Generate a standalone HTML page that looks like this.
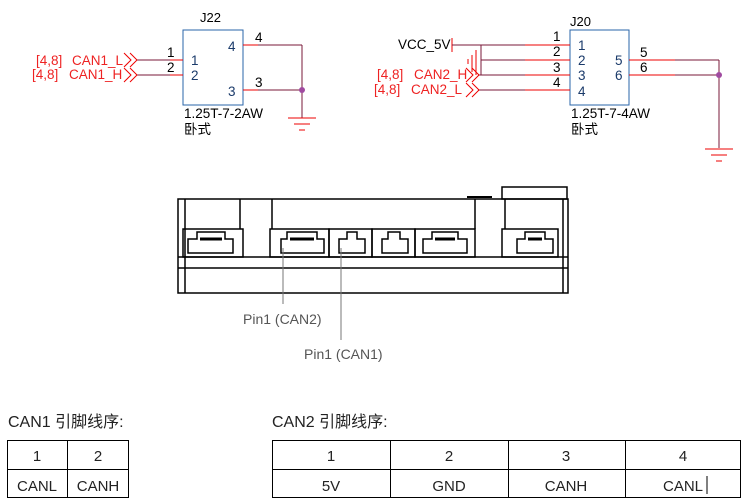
<!DOCTYPE html>
<html><head><meta charset="utf-8"><style>
body{margin:0;background:#fff;}
svg{display:block;font-family:"Liberation Sans","Noto Sans CJK SC",sans-serif;}
</style></head><body>
<svg width="745" height="501" viewBox="0 0 745 501" xmlns="http://www.w3.org/2000/svg">
<!-- J22 -->
<text x="200" y="22" font-size="13">J22</text>
<rect x="183" y="30" width="60" height="75" fill="none" stroke="#2a64a8" stroke-width="1"/>
<g font-size="13.5" fill="#1a3a6a">
<text x="191" y="65">1</text><text x="191" y="80">2</text>
<text x="228" y="51">4</text><text x="228" y="96">3</text>
</g>
<g font-size="13.5">
<text x="167" y="57">1</text><text x="167" y="72">2</text>
<text x="255" y="42">4</text><text x="255" y="87">3</text>
</g>
<line x1="137" y1="60" x2="170" y2="60" stroke="#7a1838"/><line x1="170" y1="60" x2="183" y2="60" stroke="#e00"/>
<line x1="137" y1="75" x2="170" y2="75" stroke="#7a1838"/><line x1="170" y1="75" x2="183" y2="75" stroke="#e00"/>
<line x1="243" y1="45" x2="258" y2="45" stroke="#e00"/><line x1="258" y1="45" x2="302" y2="45" stroke="#7a1838"/>
<line x1="243" y1="90" x2="258" y2="90" stroke="#e00"/><line x1="258" y1="90" x2="302" y2="90" stroke="#7a1838"/>
<line x1="302" y1="45" x2="302" y2="118" stroke="#7a1838"/>
<circle cx="302" cy="90" r="3" fill="#a04aa0"/>
<g stroke="#e00"><line x1="288" y1="118" x2="316" y2="118"/><line x1="294" y1="124" x2="310" y2="124"/><line x1="299" y1="130" x2="305" y2="130"/></g>
<g fill="none" stroke="#e00">
<polyline points="124,53 131,60 124,67"/><polyline points="130,53 137,60 130,67"/>
<polyline points="124,68 131,75 124,82"/><polyline points="130,68 137,75 130,82"/>
</g>
<g font-size="13.5" fill="#e22">
<text x="36" y="65">[4,8]</text><text x="72" y="65">CAN1_L</text>
<text x="32" y="79">[4,8]</text><text x="69" y="79">CAN1_H</text>
</g>
<text x="184" y="118" font-size="13.5">1.25T-7-2AW</text>
<text x="184" y="134" font-size="13.5">卧式</text>

<!-- J20 -->
<text x="570" y="26" font-size="13">J20</text>
<rect x="570" y="30" width="59" height="75" fill="none" stroke="#2a64a8"/>
<g font-size="13.5" fill="#1a3a6a">
<text x="578" y="50">1</text><text x="578" y="65">2</text><text x="578" y="80">3</text><text x="578" y="96">4</text>
<text x="615" y="65">5</text><text x="615" y="80">6</text>
</g>
<g font-size="13.5">
<text x="553" y="41">1</text><text x="553" y="56">2</text><text x="553" y="72">3</text><text x="553" y="87">4</text>
<text x="640" y="57">5</text><text x="640" y="72">6</text>
</g>
<text x="398" y="49" font-size="13.5">VCC_5V</text>
<line x1="452" y1="38" x2="452" y2="52" stroke="#e00"/>
<line x1="452" y1="45" x2="525" y2="45" stroke="#7a1838"/><line x1="525" y1="45" x2="570" y2="45" stroke="#e00"/>
<line x1="481" y1="60" x2="525" y2="60" stroke="#7a1838"/><line x1="525" y1="60" x2="570" y2="60" stroke="#e00"/>
<line x1="478" y1="75" x2="525" y2="75" stroke="#7a1838"/><line x1="525" y1="75" x2="570" y2="75" stroke="#e00"/>
<line x1="478" y1="90" x2="525" y2="90" stroke="#7a1838"/><line x1="525" y1="90" x2="570" y2="90" stroke="#e00"/>
<line x1="481" y1="45" x2="481" y2="75" stroke="#7a1838"/>
<g stroke="#e00"><line x1="476" y1="50" x2="476" y2="75"/><line x1="472" y1="55" x2="472" y2="72"/><line x1="468" y1="59" x2="468" y2="64"/></g>
<g fill="none" stroke="#e00">
<polyline points="466,68 473,75 466,82"/><polyline points="472,68 479,75 472,82"/>
<polyline points="466,83 473,90 466,97"/><polyline points="472,83 479,90 472,97"/>
</g>
<g font-size="13.5" fill="#e22">
<text x="377" y="79">[4,8]</text><text x="414" y="79">CAN2_H</text>
<text x="374" y="94">[4,8]</text><text x="411" y="94">CAN2_L</text>
</g>
<line x1="629" y1="60" x2="675" y2="60" stroke="#e00"/><line x1="675" y1="60" x2="719" y2="60" stroke="#7a1838"/>
<line x1="629" y1="75" x2="675" y2="75" stroke="#e00"/><line x1="675" y1="75" x2="719" y2="75" stroke="#7a1838"/>
<line x1="719" y1="60" x2="719" y2="148" stroke="#7a1838"/>
<circle cx="719" cy="75" r="3" fill="#a04aa0"/>
<g stroke="#e00"><line x1="705" y1="149" x2="733" y2="149"/><line x1="711" y1="155" x2="727" y2="155"/><line x1="716" y1="161" x2="722" y2="161"/></g>
<text x="571" y="118" font-size="13.5">1.25T-7-4AW</text>
<text x="571" y="134" font-size="13.5">卧式</text>

<!-- mechanical -->
<g fill="none" stroke="#000" stroke-width="1.5">
<rect x="178" y="199" width="390" height="94"/>
<line x1="178" y1="257" x2="568" y2="257"/>
<line x1="178" y1="268" x2="568" y2="268"/>
<line x1="185" y1="199" x2="185" y2="293"/>
<line x1="563" y1="199" x2="563" y2="293"/>
<line x1="240" y1="199" x2="240" y2="229"/>
<line x1="272" y1="199" x2="272" y2="229"/>
<line x1="475" y1="199" x2="475" y2="229"/>
<line x1="505" y1="199" x2="505" y2="229"/>
<rect x="502" y="187" width="65" height="12"/>
<line x1="467" y1="197" x2="492" y2="197" stroke-width="2"/>
<rect x="183" y="229" width="60" height="28"/>
<rect x="270" y="229" width="59" height="28"/>
<rect x="329" y="229" width="43" height="28"/>
<rect x="372" y="229" width="43" height="28"/>
<rect x="415" y="229" width="60" height="28"/>
<rect x="502" y="229" width="56" height="28"/>
<path d="M188 253V239H197V232H225V239H233V253Z"/>
<path d="M281 253V239H287V232H317V239H324V253Z"/>
<path d="M339 253V239H347V232H357V239H365V253Z"/>
<path d="M382 253V239H388V232H400V239H408V253Z"/>
<path d="M423 253V239H432V232H458V239H467V253Z"/>
<path d="M517 253V239H525V232H545V239H553V253Z"/>
</g>
<g stroke="#000" stroke-width="3">
<line x1="200" y1="239" x2="222" y2="239"/><line x1="290" y1="239" x2="314" y2="239"/>
<line x1="435" y1="239" x2="455" y2="239"/><line x1="528" y1="239" x2="542" y2="239"/>
</g>
<line x1="283" y1="248" x2="283" y2="304" stroke="#777"/>
<line x1="341" y1="248" x2="341" y2="340" stroke="#777"/>
<text x="243" y="324" font-size="14" fill="#555">Pin1 (CAN2)</text>
<text x="304" y="359" font-size="14" fill="#555">Pin1 (CAN1)</text>

<!-- tables -->
<text x="8" y="427" font-size="16" fill="#222">CAN1 引脚线序:</text>
<text x="272" y="427" font-size="16" fill="#222">CAN2 引脚线序:</text>
<g fill="none" stroke="#000" stroke-width="1">
<rect x="7.5" y="440.5" width="121" height="57"/>
<line x1="67.5" y1="440" x2="67.5" y2="498"/>
<line x1="7" y1="469.5" x2="129" y2="469.5"/>
<rect x="272.5" y="440.5" width="468" height="57"/>
<line x1="390.5" y1="440" x2="390.5" y2="498"/>
<line x1="508.5" y1="440" x2="508.5" y2="498"/>
<line x1="625.5" y1="440" x2="625.5" y2="498"/>
<line x1="272" y1="469.5" x2="741" y2="469.5"/>
</g>
<g font-size="15" fill="#222" text-anchor="middle">
<text x="37" y="461">1</text><text x="98" y="461">2</text>
<text x="37" y="491">CANL</text><text x="98" y="491">CANH</text>
<text x="331" y="461">1</text><text x="449" y="461">2</text><text x="566" y="461">3</text><text x="683" y="461">4</text>
<text x="331" y="491">5V</text><text x="449" y="491">GND</text><text x="566" y="491">CANH</text><text x="683" y="491">CANL</text>
</g>
<line x1="707" y1="476" x2="707" y2="494" stroke="#000"/>
</svg>
</body></html>
